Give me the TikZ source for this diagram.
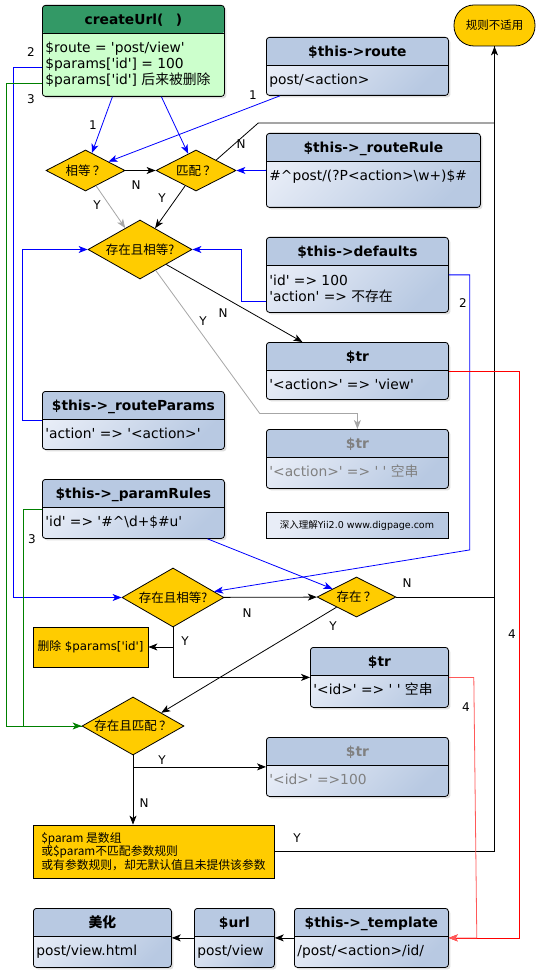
\documentclass[tikz,border=0pt]{standalone}
\usepackage{fontspec}
\setmainfont{DejaVu Sans}[Ligatures=TeXOff]
\newfontfamily\cjk{Noto Sans CJK SC}
\usepackage{tikz}
\usetikzlibrary{positioning, calc, shapes.geometric, arrows.meta, shadows}
\definecolor{hdblue}{RGB}{184,201,226}
\definecolor{ltblue}{RGB}{232,237,247}
\definecolor{hdgreen}{RGB}{51,153,102}
\definecolor{ltgreen}{RGB}{204,255,204}
\definecolor{gold}{RGB}{255,204,0}
\tikzstyle{Arrow} = [
    -{Stealth[length=9pt, width=7pt, inset=2.5pt]}
]

\begin{document}
\begin{tikzpicture}[x=1pt, y=-1pt, line width=0.8pt,
classbox/.style={
    draw, rounded corners=3pt, anchor=north west, inner sep=0,
    top color=ltblue, bottom color=hdblue, shading angle=45,
    drop shadow={shadow xshift=2pt, shadow yshift=-2pt, opacity=0.25},
    path picture={
        \fill[#1] (path picture bounding box.north west) rectangle ([yshift=-28pt]path picture bounding box.north east);
        \draw ([yshift=-28pt]path picture bounding box.north west) -- ([yshift=-28pt]path picture bounding box.north east);
    }
    },
classbox/.default=hdblue,
classtitle/.style={font=\fontsize{13.8}{16}\selectfont\bfseries, anchor=base, inner sep=0},
classtext/.style={font=\fontsize{13.8}{16}\selectfont, anchor=base west, align=left, inner sep=0},
decide/.style={diamond, draw, fill=gold, aspect=2, inner sep=0, font=\cjk\fontsize{12.5}{14}\selectfont},
goldbox/.style={draw, fill=gold, inner sep=0},
lbl/.style={font=\fontsize{12}{14}\selectfont, inner sep=0}
]
\useasboundingbox[fill=white] (0,0) rectangle (540,973);

% boxes
\node[classbox=hdgreen, top color=ltgreen, bottom color=ltgreen, minimum width=182, minimum height=91] (create) at (42,5) {};
\node[classtitle] (create-t) at ([yshift=-20]create.north) {createUrl(\hspace{0.9em})};
\node[classtext] (create-b) at ([xshift=3, yshift=-80]create.north west) {\$route = 'post/view'\\ \$params['id'] = 100\\ \$params['id'] {\cjk 后来被删除}};

\node[goldbox, rounded corners=20pt, minimum width=81, minimum height=41, font=\cjk\fontsize{11.5}{13}\selectfont] (na) at (494.5,25.5) {规则不适用};

\node[classbox, minimum width=182, minimum height=58] (route) at (266,37) {};
\node[classtitle] (route-t) at ([yshift=-19.5]route.north) {\$this->route};
\node[classtext] (route-b) at ([xshift=3, yshift=-47.5]route.north west) {post/<action>};

\node[classbox, minimum width=214, minimum height=74] (rrule) at (266,133) {};
\node[classtitle] (rrule-t) at ([yshift=-19.5]rrule.north) {\$this->\_routeRule};
\node[classtext] (rrule-b) at ([xshift=3, yshift=-47.5]rrule.north west) {\#\textasciicircum post/(?P<action>\textbackslash w+)\$\#};

\node[classbox, minimum width=182, minimum height=75] (defaults) at (266,237) {};
\node[classtitle] (defaults-t) at ([yshift=-19.5]defaults.north) {\$this->defaults};
\node[classtext] (defaults-b) at ([xshift=3, yshift=-64]defaults.north west) {'id' => 100\\ 'action' => {\cjk 不存在}};

\node[classbox, minimum width=182, minimum height=57] (tr1) at (266,342) {};
\node[classtitle] (tr1-t) at ([yshift=-19.5]tr1.north) {\$tr};
\node[classtext] (tr1-b) at ([xshift=3, yshift=-47.5]tr1.north west) {'<action>' => 'view'};

\node[classbox, minimum width=182, minimum height=59] (trg) at (266,429) {};
\node[classtitle, text=gray] (trg-t) at ([yshift=-19.5]trg.north) {\$tr};
\node[classtext, text=gray] (trg-b) at ([xshift=3, yshift=-47.5]trg.north west) {'<action>' => ' ' {\cjk 空串}};

\node[classbox, minimum width=182, minimum height=58] (rparams) at (42,391) {};
\node[classtitle] (rparams-t) at ([yshift=-19.5]rparams.north) {\$this->\_routeParams};
\node[classtext] (rparams-b) at ([xshift=3, yshift=-47.5]rparams.north west) {'action' => '<action>'};

\node[classbox, minimum width=182, minimum height=59] (prules) at (42,479) {};
\node[classtitle] (prules-t) at ([yshift=-19.5]prules.north) {\$this->\_paramRules};
\node[classtext] (prules-b) at ([xshift=3, yshift=-47.5]prules.north west) {'id' => '\#\textasciicircum\textbackslash d+\$\#u'};

\node[draw, inner sep=0, top color=ltblue, bottom color=hdblue, shading angle=45, minimum width=182, minimum height=26, font=\fontsize{9.5}{11}\selectfont] (mark) at (357,525) {{\cjk 深入理解}Yii2.0 www.digpage.com};

\node[goldbox, minimum width=115, minimum height=40, font=\fontsize{11.8}{13}\selectfont] (del) at (90.5,647) {{\cjk 删除} \$params['id']};

\node[classbox, minimum width=138, minimum height=60] (tr3) at (310,647) {};
\node[classtitle] (tr3-t) at ([yshift=-19.5]tr3.north) {\$tr};
\node[classtext] (tr3-b) at ([xshift=3, yshift=-47.5]tr3.north west) {'<id>' => ' ' {\cjk 空串}};

\node[classbox, minimum width=182, minimum height=59] (trg2) at (266,737) {};
\node[classtitle, text=gray] (trg2-t) at ([yshift=-19.5]trg2.north) {\$tr};
\node[classtext, text=gray] (trg2-b) at ([xshift=3, yshift=-47.5]trg2.north west) {'<id>' =>100};

\node[goldbox, minimum width=241, minimum height=53, align=left, font=\cjk\fontsize{11.8}{13.5}\selectfont] (param) at (153.5,851.5) {\$param 是数组\\ 或\$param不匹配参数规则\\ 或有参数规则，却无默认值且未提供该参数};

\node[classbox, minimum width=138, minimum height=59] (beauty) at (33,908) {};
\node[classtitle] (beauty-t) at ([yshift=-19.5]beauty.north) {\cjk 美化};
\node[classtext] (beauty-b) at ([xshift=3, yshift=-47.5]beauty.north west) {post/view.html};

\node[classbox, minimum width=80, minimum height=59] (url) at (194,908) {};
\node[classtitle] (url-t) at ([yshift=-19.5]url.north) {\$url};
\node[classtext] (url-b) at ([xshift=3, yshift=-47.5]url.north west) {post/view};

\node[classbox, minimum width=154, minimum height=59] (tmpl) at (294,908) {};
\node[classtitle] (tmpl-t) at ([yshift=-19.5]tmpl.north) {\$this->\_template};
\node[classtext] (tmpl-b) at ([xshift=3, yshift=-47.5]tmpl.north west) {/post/<action>/id/};

% decisions
\node[decide, minimum width=79, minimum height=41] (eq) at (85.5,170.5) {相等\,？};
\node[decide, minimum width=80, minimum height=41] (match) at (196,170.5) {匹配\,？};
\node[decide, minimum width=104, minimum height=59] (exA) at (140,249.5) {存在且相等?};
\node[decide, minimum width=102, minimum height=59] (exB) at (173,597.5) {存在且相等?};
\node[decide, minimum width=79, minimum height=40] (exist) at (356.5,597) {存在\,？};
\node[decide, minimum width=102, minimum height=58] (exC) at (133,726) {存在且匹配\,？};

% connectors
\draw[Arrow, blue] ([xshift=-21]create.south) -- (eq);
\draw[Arrow, blue] ([xshift=28]create.south) -- (match);
\draw[Arrow, blue] ([xshift=14]route.south west) -- (eq);
\draw[Arrow] (eq) -- (match);
\draw[Arrow] (match.north east) -- ++(42,-37) -| (na.south);
\draw[Arrow, blue] (rrule.west) -- (match.east);
\draw[Arrow, gray!70] (eq) -- (exA);
\draw[Arrow] (match) -- (exA);
\draw[Arrow, blue] (rparams.west) -- ++(-20,0) |- (exA.west);
\draw[Arrow, blue] ([yshift=-26.5]defaults.west) -- ++(-25,0) |- (exA.east);
\draw[Arrow] (exA.south east) -- ([xshift=-55]tr1.north);
\draw[Arrow, gray!70] ($(exA.south)!0.3!(exA.east)$) -- ++(104,143) -| (trg.north);
\draw[Arrow, blue] (defaults.east) -- ++(21,0) -- ++(0,275) -- ($(exB.north)!0.8!(exB.east)$);
\draw[Arrow, blue] ([yshift=-16.5]create.west) -- ++(-29,0) |- (exB.west);
\draw[Arrow, green!50!black] ([yshift=-33]create.west) -- ++(-36,0) |- (exC.west);
\draw[green!50!black] (prules.west) -- ++(-19,0) |- (exC.west);
\draw[Arrow, blue] ([xshift=74]prules.south) -- ($(exist.west)!0.4!(exist.north)$);
\draw[Arrow] (exB) -- (exist);
\draw (exist.east) -- (exist.east -| na.south);
\draw[Arrow] (exB.south) |- (del.east);
\draw[Arrow] (exB.south) |- (tr3.west);
\draw[Arrow] (exist.south west) -- ($(exC.north)!0.55!(exC.east)$);
\draw[Arrow] (exC.south) |- (trg2.west);
\draw[Arrow] (exC.south) -- (exC.south |- param.north);
\draw (param.east) -| (na.south);
\draw[Arrow, red] (tr1.east) -- ++(71,0) |- (tmpl.east);
\draw[Arrow, red!65] (tr3.east) -- ++(25,0) -- ([xshift=28]tmpl.east) -- (tmpl.east);
\draw[Arrow] (tmpl) -- (url);
\draw[Arrow] (url) -- (beauty);

% labels
\node[lbl] (l-c2) at (31,52) {2};
\node[lbl] (l-c3) at (31,99) {3};
\node[lbl] (l-c1) at (93,125) {1};
\node[lbl] (l-r1) at (253,95) {1};
\node[lbl] (l-eqn) at (136,185) {N};
\node[lbl] (l-man) at (241,144) {N};
\node[lbl] (l-eqy) at (97,205) {Y};
\node[lbl] (l-may) at (162,198) {Y};
\node[lbl] (l-exay) at (203,321) {Y};
\node[lbl] (l-exan) at (223,313) {N};
\node[lbl] (l-d2) at (463,303) {2};
\node[lbl] (l-p3) at (32,539) {3};
\node[lbl] (l-exbn) at (247,613) {N};
\node[lbl] (l-exn) at (407,583) {N};
\node[lbl] (l-exy) at (333,626) {Y};
\node[lbl] (l-exby) at (185,641) {Y};
\node[lbl] (l-t4) at (512,634) {4};
\node[lbl] (l-s4) at (466,707) {4};
\node[lbl] (l-excy) at (162,760) {Y};
\node[lbl] (l-excn) at (144,803) {N};
\node[lbl] (l-py) at (297,838) {Y};

\end{tikzpicture}
\end{document}
